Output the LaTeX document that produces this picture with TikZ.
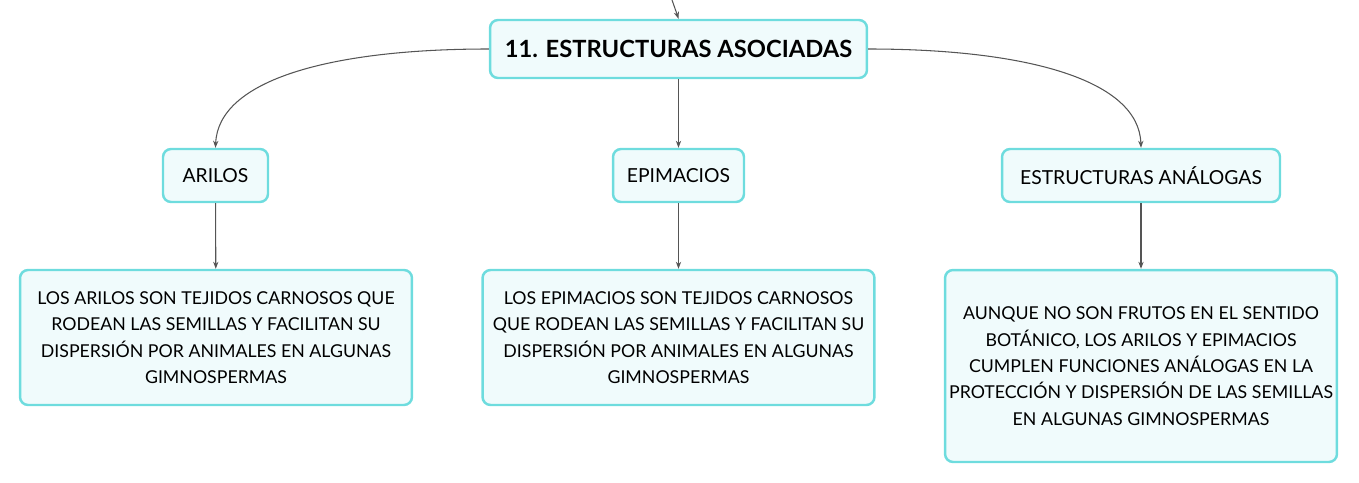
\documentclass[tikz,border=0pt]{standalone}
\usepackage{fontspec}
\setmainfont{Lato}
\usetikzlibrary{arrows.meta,positioning}
\definecolor{mapCyan}{RGB}{110,220,222}
\definecolor{mapFill}{RGB}{240,251,252}
\definecolor{mapLine}{RGB}{85,85,85}

\begin{document}
\begin{tikzpicture}[x=0.02cm, y=-0.02cm,
    topic/.style={rectangle, rounded corners=0.16cm, draw=mapCyan, fill=mapFill,
                line width=1.4pt, inner sep=0pt, align=center, text=black},
    title/.style={topic, minimum width=7.54cm, minimum height=1.16cm,
                font=\fontsize{13.5}{16}\selectfont\bfseries},
    sub/.style={topic, minimum height=1.06cm, font=\fontsize{11}{14}\selectfont},
    note/.style={topic, minimum width=7.84cm, font=\fontsize{10.1}{15}\selectfont},
    arr/.style={-{Stealth[length=4pt,width=3pt]}, mapLine, line width=0.6pt}
  ]
  \useasboundingbox (0,0) rectangle (1359,483);
  \node[title] (main) at (678.5,49) {11. ESTRUCTURAS ASOCIADAS};
  \node[sub, minimum width=2.10cm] (aril) at (215.5,175.5) {ARILOS};
  \node[sub, minimum width=2.62cm] (epim) at (678.5,175.5) {EPIMACIOS};
  \node[sub, minimum width=5.56cm] (anal) at (1141,175.5) {ESTRUCTURAS ANÁLOGAS};
  \node[note, minimum height=2.70cm] (taril) at (216,337.5)
    {LOS ARILOS SON TEJIDOS CARNOSOS QUE\\RODEAN LAS SEMILLAS Y FACILITAN SU\\DISPERSIÓN POR ANIMALES EN ALGUNAS\\GIMNOSPERMAS};
  \node[note, minimum height=2.70cm] (tepim) at (678.5,337.5)
    {LOS EPIMACIOS SON TEJIDOS CARNOSOS\\QUE RODEAN LAS SEMILLAS Y FACILITAN SU\\DISPERSIÓN POR ANIMALES EN ALGUNAS\\GIMNOSPERMAS};
  \node[note, minimum height=3.84cm] (tanal) at (1141,366)
    {AUNQUE NO SON FRUTOS EN EL SENTIDO\\BOTÁNICO, LOS ARILOS Y EPIMACIOS\\CUMPLEN FUNCIONES ANÁLOGAS EN LA\\PROTECCIÓN Y DISPERSIÓN DE LAS SEMILLAS\\EN ALGUNAS GIMNOSPERMAS};
  \coordinate (up) at (672,0);
  \draw[arr] (up) .. controls (675,8) .. (main.north);
  \draw[arr] (main.west) .. controls (330,49) and (218,80) .. (aril.north);
  \draw[arr] (main.south) -- (epim.north);
  \draw[arr] (main.east) .. controls (1027,49) and (1139,80) .. (anal.north);
  \draw[arr] (aril) -- (taril);
  \draw[arr] (epim) -- (tepim);
  \draw[arr] (anal) -- (tanal);
\end{tikzpicture}
\end{document}
